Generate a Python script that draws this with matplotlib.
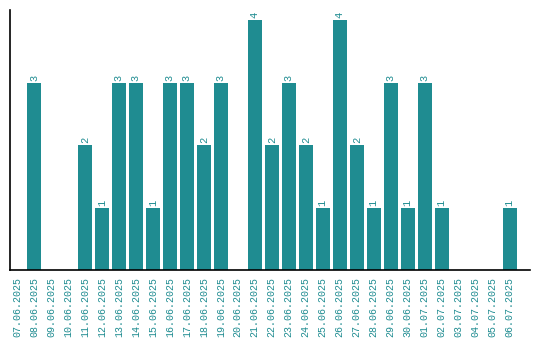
import matplotlib
matplotlib.use("Agg")
import matplotlib.pyplot as plt

# daily counts, 07.06.2025 .. 06.07.2025
dates = ["07.06.2025", "08.06.2025", "09.06.2025", "10.06.2025", "11.06.2025",
         "12.06.2025", "13.06.2025", "14.06.2025", "15.06.2025", "16.06.2025",
         "17.06.2025", "18.06.2025", "19.06.2025", "20.06.2025", "21.06.2025",
         "22.06.2025", "23.06.2025", "24.06.2025", "25.06.2025", "26.06.2025",
         "27.06.2025", "28.06.2025", "29.06.2025", "30.06.2025", "01.07.2025",
         "02.07.2025", "03.07.2025", "04.07.2025", "05.07.2025", "06.07.2025"]
counts = [0, 3, 0, 0, 2, 1, 3, 3, 1, 3, 3, 2, 3, 0, 4,
          2, 3, 2, 1, 4, 2, 1, 3, 1, 3, 1, 0, 0, 0, 1]

teal = "#1f8c91"
mono = ["Liberation Mono", "DejaVu Sans Mono"]

fig = plt.figure(figsize=(5.4, 3.4), dpi=100)
ax = fig.add_axes([10 / 540, 70 / 340, 520 / 540, 260 / 340])

x = list(range(len(dates)))
ax.bar(x, counts, width=0.82, color=teal)

# value labels above non-empty bars
for xi, c in zip(x, counts):
    if c > 0:
        ax.text(xi, c + 0.03, str(c), rotation=90, ha="center", va="bottom",
                color=teal, fontsize=7.5, family=mono)

ax.set_xlim(-0.41, 30.2)
ax.set_ylim(0, 4.16)
ax.set_xticks(x)
ax.set_xticklabels(dates, rotation=90, color=teal, fontsize=7.2, family=mono)
ax.tick_params(axis="x", length=0, pad=5)
ax.set_yticks([])
for side in ("top", "right"):
    ax.spines[side].set_visible(False)
for side in ("left", "bottom"):
    ax.spines[side].set_linewidth(1.2)

fig.savefig("out.png", dpi=100)
